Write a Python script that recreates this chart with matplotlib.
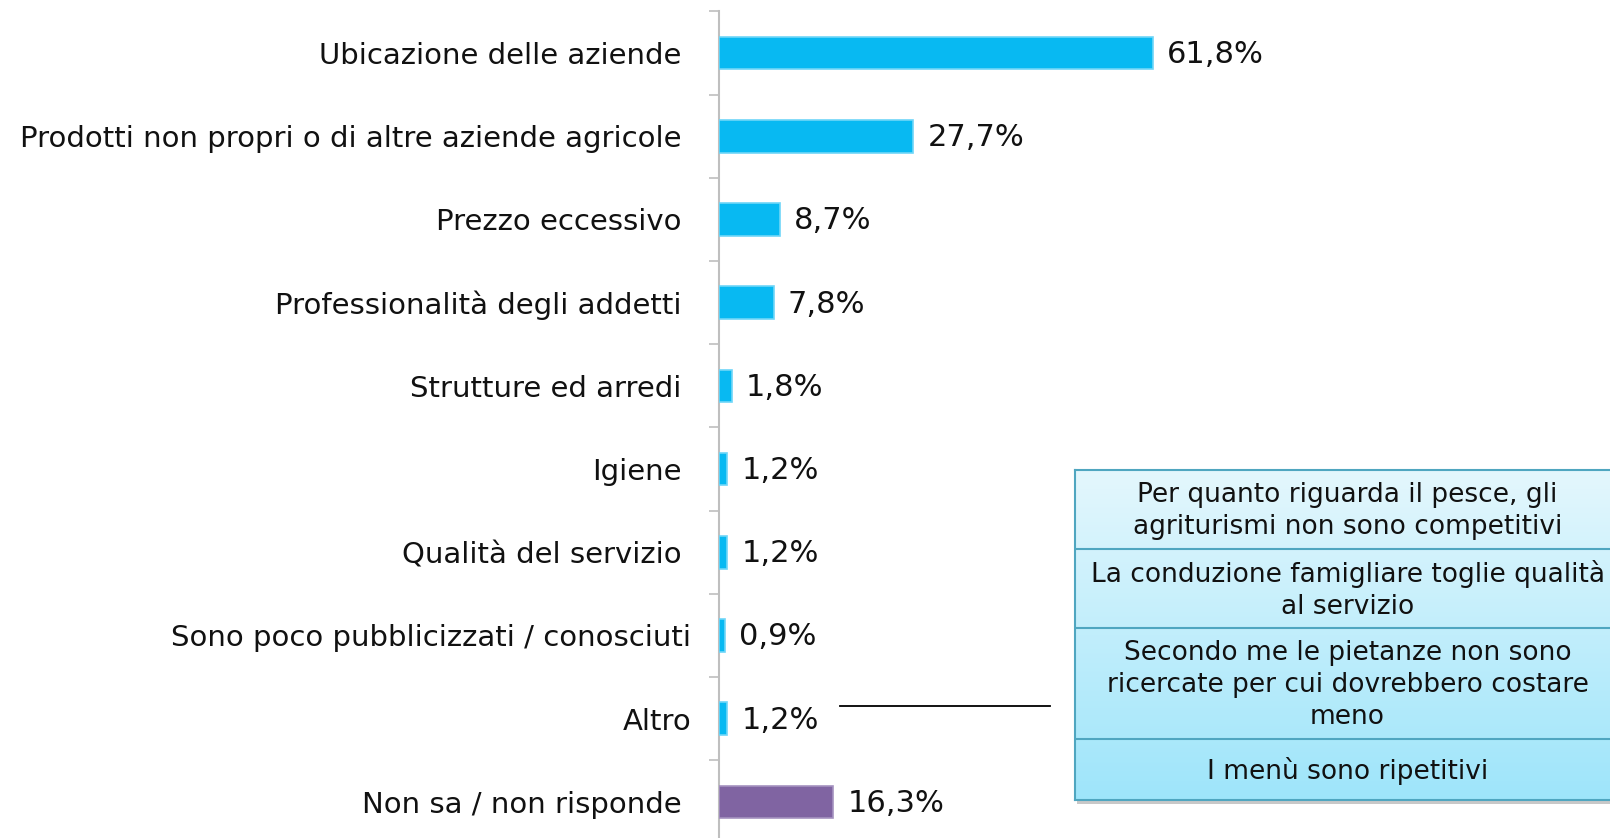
import numpy as np
import matplotlib
matplotlib.use('Agg')
import matplotlib.pyplot as plt
from matplotlib.patches import Rectangle
from matplotlib.lines import Line2D

categories = ['Ubicazione delle aziende',
              'Prodotti non propri o di altre aziende agricole',
              'Prezzo eccessivo',
              'Professionalità degli addetti',
              'Strutture ed arredi',
              'Igiene',
              'Qualità del servizio',
              'Sono poco pubblicizzati / conosciuti',
              'Altro',
              'Non sa / non risponde']
values = [61.8, 27.7, 8.7, 7.8, 1.8, 1.2, 1.2, 0.9, 1.2, 16.3]
value_labels = ['61,8%', '27,7%', '8,7%', '7,8%', '1,8%', '1,2%', '1,2%', '0,9%', '1,2%', '16,3%']
altro_items = ['Per quanto riguarda il pesce, gli\nagriturismi non sono competitivi',
               'La conduzione famigliare toglie qualità\nal servizio',
               'Secondo me le pietanze non sono\nricercate per cui dovrebbero costare\nmeno',
               'I menù sono ripetitivi']

W, H = 1610, 838
fig = plt.figure(figsize=(W / 100, H / 100), dpi=100)
plt.rcParams['font.family'] = ['DejaVu Sans']

# axes placed in pixel terms
ax_left, ax_top, ax_bot = 719, 11.5, 843.5
ax = fig.add_axes([ax_left / W, 1 - ax_bot / H, (W - ax_left) / W, (ax_bot - ax_top) / H])
ax.set_facecolor('none')
n = len(categories)
y = np.arange(n)
colors = ['#08B9F2'] * (n - 1) + ['#8064A2']
edges = ['#6FD6F8'] * (n - 1) + ['#A592C0']
ax.barh(y, values, height=0.39, color=colors, edgecolor=edges, linewidth=1.2, zorder=3)
ax.set_ylim(n - 0.5, -0.5)
px_per_pct = 7.02
ax.set_xlim(0, (W - ax_left) / px_per_pct)

for yi, v, lab in zip(y, values, value_labels):
    ax.annotate(lab, (v, yi), xytext=(10, -1), textcoords='offset points',
                va='center', ha='left', fontsize=22, color='#111111')

ax.set_yticks(y)
ax.set_yticklabels(categories, fontsize=21, color='#111111')
ax.set_yticks(np.arange(n + 1) - 0.5, minor=True)
ax.tick_params(axis='y', which='major', length=0, pad=27)
ax.tick_params(axis='y', which='minor', length=7, width=1.2, color='#BFBFBF', direction='out')
for i in (7, 8):
    ax.yaxis.get_major_ticks()[i].set_pad(20)
ax.set_xticks([])
for s in ('top', 'right', 'bottom'):
    ax.spines[s].set_visible(False)
ax.spines['left'].set_color('#BFBFBF')
ax.spines['left'].set_linewidth(1.5)

# connector line from "Altro" to the box
fig.add_artist(Line2D([840 / W, 1050 / W], [1 - 706 / H, 1 - 706 / H], color='black', lw=1.3))

# comment box for "Altro"
bx0, bx1 = 1075, 1620
bounds = [470, 549, 628, 739, 800]
shadow = Rectangle(((bx0 + 2) / W, 1 - (bounds[-1] + 4) / H),
                   (bx1 - bx0) / W, (bounds[-1] - bounds[0]) / H,
                   transform=fig.transFigure, facecolor='#C8C8C8', edgecolor='none', zorder=-1)
fig.add_artist(shadow)
box_ax = fig.add_axes([bx0 / W, 1 - bounds[-1] / H, (bx1 - bx0) / W, (bounds[-1] - bounds[0]) / H])
grad = np.linspace(0, 1, 256).reshape(-1, 1)
top_c = np.array([0xE4, 0xF7, 0xFD]) / 255
bot_c = np.array([0x9E, 0xE5, 0xFA]) / 255
img = top_c[None, None, :] * (1 - grad[:, :, None]) + bot_c[None, None, :] * grad[:, :, None]
box_ax.imshow(img, aspect='auto', extent=(bx0, bx1, bounds[-1], bounds[0]))
box_ax.set_xlim(bx0, bx1)
box_ax.set_ylim(bounds[-1], bounds[0])
box_ax.set_xticks([])
box_ax.set_yticks([])
for s in box_ax.spines.values():
    s.set_color('#4FA6C0')
    s.set_linewidth(1.5)
for b in bounds[1:-1]:
    box_ax.axhline(b, color='#4FA6C0', lw=1.5)
for top, bot, txt in zip(bounds[:-1], bounds[1:], altro_items):
    box_ax.text((bx0 + bx1) / 2, (top + bot) / 2 + 1, txt, ha='center', va='center',
                fontsize=19, color='#111111', linespacing=1.3)

fig.savefig('out.png', dpi=100)
